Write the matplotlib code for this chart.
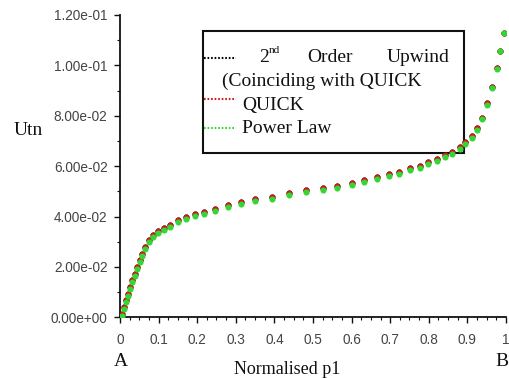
import matplotlib
matplotlib.use("Agg")
import matplotlib.pyplot as plt
import matplotlib.patches as mpatches
from matplotlib.lines import Line2D
from matplotlib.ticker import MultipleLocator, FormatStrFormatter

# ---------------- data ----------------
p1 = [0.000, 0.006, 0.010, 0.015, 0.021, 0.025, 0.032, 0.038, 0.045, 0.051,
      0.058, 0.066, 0.075, 0.086, 0.099, 0.114, 0.130, 0.150, 0.170, 0.194,
      0.218, 0.246, 0.279, 0.313, 0.351, 0.394, 0.437, 0.482, 0.526, 0.563,
      0.600, 0.632, 0.667, 0.697, 0.724, 0.751, 0.776, 0.798, 0.820, 0.841,
      0.860, 0.880, 0.895, 0.911, 0.925, 0.938, 0.951, 0.964, 0.976, 0.985,
      0.995]

upwind_2nd = [0.0000, 0.0015, 0.0041, 0.0068, 0.0094, 0.0121, 0.0147, 0.0173, 0.0200, 0.0226,
              0.0253, 0.0280, 0.0306, 0.0326, 0.0343, 0.0355, 0.0368, 0.0385, 0.0399, 0.0412,
              0.0419, 0.0429, 0.0444, 0.0459, 0.0469, 0.0479, 0.0495, 0.0506, 0.0512, 0.0521,
              0.0535, 0.0545, 0.0557, 0.0567, 0.0575, 0.0591, 0.0601, 0.0617, 0.0630, 0.0644,
              0.0657, 0.0677, 0.0697, 0.0719, 0.0752, 0.0793, 0.0849, 0.0914, 0.0990, 0.1059,
              0.1130]

quick = [0.0000, 0.0015, 0.0041, 0.0068, 0.0094, 0.0121, 0.0147, 0.0173, 0.0200, 0.0226,
         0.0253, 0.0280, 0.0306, 0.0326, 0.0343, 0.0355, 0.0368, 0.0385, 0.0399, 0.0412,
         0.0419, 0.0429, 0.0444, 0.0459, 0.0469, 0.0479, 0.0495, 0.0506, 0.0512, 0.0521,
         0.0535, 0.0545, 0.0557, 0.0567, 0.0575, 0.0591, 0.0601, 0.0617, 0.0630, 0.0644,
         0.0657, 0.0677, 0.0697, 0.0719, 0.0752, 0.0793, 0.0849, 0.0914, 0.0990, 0.1059,
         0.1130]

power_law = [0.0000, 0.0007, 0.0033, 0.0060, 0.0086, 0.0113, 0.0139, 0.0165, 0.0192, 0.0218,
             0.0245, 0.0272, 0.0298, 0.0318, 0.0335, 0.0347, 0.0360, 0.0377, 0.0391, 0.0404,
             0.0411, 0.0421, 0.0436, 0.0451, 0.0461, 0.0471, 0.0487, 0.0498, 0.0504, 0.0513,
             0.0527, 0.0537, 0.0549, 0.0559, 0.0567, 0.0583, 0.0593, 0.0609, 0.0622, 0.0636,
             0.0649, 0.0669, 0.0689, 0.0711, 0.0744, 0.0786, 0.0843, 0.0910, 0.0987, 0.1057,
             0.1129]

x_ticks = [0, 0.1, 0.2, 0.3, 0.4, 0.5, 0.6, 0.7, 0.8, 0.9, 1]
x_tick_labels = ["0", "0.1", "0.2", "0.3", "0.4", "0.5", "0.6", "0.7", "0.8", "0.9", "1"]
y_ticks = [0.0, 0.02, 0.04, 0.06, 0.08, 0.10, 0.12]

# ---------------- figure ----------------
W, H = 510, 378
fig = plt.figure(figsize=(W / 100, H / 100), dpi=100)
fig.patch.set_facecolor("white")

ax = fig.add_axes([120 / W, 1 - 317.3 / H, 386 / W, (317.3 - 15) / H])

RED = "#d01818"
GREEN = "#33d633"

ax.plot(p1, upwind_2nd, linestyle="none", marker="o", ms=4.4, color="black", mec="none", zorder=3)
ax.plot(p1, quick, linestyle="none", marker="o", ms=4.4, color=RED, mec="none", zorder=4)
ax.plot(p1, power_law, linestyle="none", marker="o", ms=4.4, color=GREEN, mec="none", zorder=5)

ax.set_xlim(0, 1)
ax.set_ylim(0, 0.12)
ax.set_xticks(x_ticks)
ax.set_xticklabels(x_tick_labels)
ax.set_yticks(y_ticks)
ax.yaxis.set_major_formatter(FormatStrFormatter("%.2e"))
ax.xaxis.set_minor_locator(MultipleLocator(0.025))
ax.yaxis.set_minor_locator(MultipleLocator(0.01))

for s in ["top", "right"]:
    ax.spines[s].set_visible(False)
for s in ["left", "bottom"]:
    ax.spines[s].set_linewidth(1.3)
    ax.spines[s].set_color("#111111")

ax.tick_params(axis="both", which="major", direction="out", length=4, width=1.0,
               colors="#111111", labelcolor="#444444")
ax.tick_params(axis="both", which="minor", direction="out", length=2, width=0.8,
               colors="#111111")
ax.tick_params(axis="x", which="major", pad=7)
ax.tick_params(axis="y", which="major", pad=5)
for lab in ax.get_xticklabels() + ax.get_yticklabels():
    lab.set_fontfamily("Liberation Sans")
    lab.set_fontsize(9.8)

serif = "Liberation Serif"


def ftxt(x, y, s, **kw):
    kw.setdefault("family", serif)
    kw.setdefault("color", "#111111")
    return fig.text(x / W, 1 - y / H, s, **kw)


# axis labels
ftxt(28, 131, "Utn", size=14, ha="center", va="center")
ftxt(287, 370, "Normalised p1", size=13, ha="center", va="center")
ftxt(121, 362, "A", size=14, ha="center", va="center")
ftxt(502, 362, "B", size=14, ha="center", va="center")

# legend box (manual)
box = mpatches.Rectangle((203 / W, 1 - 153 / H), 261 / W, 122 / H, transform=fig.transFigure,
                         facecolor="white", edgecolor="#111111", linewidth=1.5, zorder=2)
ax.add_patch(box)
box.set_clip_on(False)

samples = [(57.7, "black"), (99, RED), (128.3, GREEN)]
for y, c in samples:
    ln = Line2D([204 / W, 236 / W], [1 - y / H, 1 - y / H], transform=fig.transFigure,
                color=c, linewidth=1.5, linestyle=(0, (0.8, 0.9)), zorder=6)
    ax.add_line(ln)
    ln.set_clip_on(False)

ftxt(259, 61.7, "2", size=14, va="baseline")
ftxt(268.5, 53, "nd", size=8, va="baseline")
ftxt(307, 61.7, "Order", size=14, va="baseline")
ftxt(387, 61.7, "Upwind", size=14, va="baseline")
ftxt(222, 85.7, "(Coinciding with QUICK", size=14, va="baseline")
ftxt(242, 110, "QUICK", size=14, va="baseline")
ftxt(242, 133.3, "Power Law", size=14, va="baseline")

fig.savefig("out.png", dpi=100, facecolor="white")
